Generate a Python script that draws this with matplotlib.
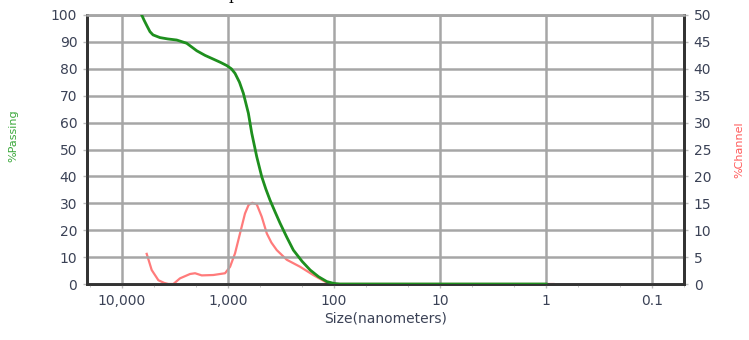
import matplotlib
matplotlib.use("Agg")
import matplotlib.pyplot as plt
from matplotlib.ticker import FixedLocator, NullFormatter

# %Passing (cumulative) vs size in nm
pass_size = [6520, 6200, 5810, 5450, 5100, 4385, 3700, 3050, 2455, 1972, 1650,
             1377, 1180, 1028, 930, 859, 780, 717, 643, 597, 536, 481, 440,
             402, 360, 323, 280, 242, 200, 168, 140, 117, 100, 88, 50, 10, 1]
pass_pct = [100, 98.1, 95.9, 93.8, 92.6, 91.6, 91.1, 90.7, 89.5, 86.7, 85.0,
            83.6, 82.4, 81.2, 80.0, 78.3, 75.0, 70.9, 63.5, 56, 47.3, 39.9, 35.3,
            31.2, 26.8, 22.6, 17.5, 12.6, 8.4, 5.2, 2.7, 0.9, 0.2, 0, 0, 0, 0]

# %Channel vs size in nm
chan_size = [5850, 5250, 4540, 4000, 3655, 3280, 2840, 2282, 2047, 1771, 1377,
             1067, 957, 859, 771, 692, 640, 590, 536, 481, 431, 390, 347, 279,
             209, 157, 117, 101, 10, 0.85]
chan_pct = [5.6, 2.6, 0.7, 0.2, 0, 0, 1.05, 1.86, 2.0, 1.6, 1.67,
            2.0, 3.2, 5.7, 9.4, 13.1, 14.7, 15.1, 14.8, 12.5, 9.4, 7.7, 6.3, 4.5,
            3.2, 1.67, 0.25, 0, 0, 0]

x_ticks = [10000, 1000, 100, 10, 1, 0.1]
x_labels = ["10,000", "1,000", "100", "10", "1", "0.1"]

tick_color = "#3b4256"
grid_color = "#a6a6a6"

fig = plt.figure(figsize=(7.49, 3.40), dpi=100)
ax = fig.add_axes([87/749, 1 - 284/340, (684-87)/749, (284-15)/340])
ax2 = ax.twinx()

ax.set_xscale("log")
ax.set_xlim(21400, 0.05)
ax.set_ylim(0, 100)
ax2.set_ylim(0, 50)

ax2.plot(chan_size, chan_pct, color="#ff5a5a", lw=1.6, alpha=0.8, zorder=2)
ax.plot(pass_size, pass_pct, color="#1e8f1e", lw=2.0, zorder=3)
ax.set_zorder(ax2.get_zorder() + 1)
ax.patch.set_visible(False)

ax.xaxis.set_major_locator(FixedLocator(x_ticks))
ax.set_xticklabels(x_labels)
ax.xaxis.set_minor_locator(FixedLocator(
    [f * 10.0**e for e in range(-2, 5) for f in (2, 5)]))
ax.xaxis.set_minor_formatter(NullFormatter())
ax.set_yticks(range(0, 101, 10))
ax2.set_yticks(range(0, 51, 5))

ax.grid(True, which="major", color=grid_color, lw=1.8)
for a in (ax, ax2):
    a.tick_params(colors=tick_color, labelsize=10, length=3, width=1,
                  direction="out", pad=4)
    a.tick_params(axis="both", which="both", color="#bbbbbb")
ax.tick_params(axis="x", which="minor", length=2)

for a in (ax, ax2):
    for side in ("left", "bottom", "right"):
        a.spines[side].set_color("#333333")
        a.spines[side].set_linewidth(2)
    a.spines["top"].set_color(grid_color)
    a.spines["top"].set_linewidth(1.8)

ax.set_ylabel("%Passing", color="#3aa83a", fontsize=8)
ax.yaxis.set_label_coords(-0.115, 0.55)
ax2.set_ylabel("%Channel", color="#ff5a5a", fontsize=8)
ax2.yaxis.set_label_coords(1.085, 0.5)
ax.set_xlabel("Size(nanometers)", color=tick_color, fontsize=10, labelpad=3)

# caption text above the chart, cut off at the top edge as in the source
fig.text(0.311, 1.012, "p", family="DejaVu Serif", fontsize=11,
         ha="center", va="center")

fig.savefig("out.png", dpi=100)
